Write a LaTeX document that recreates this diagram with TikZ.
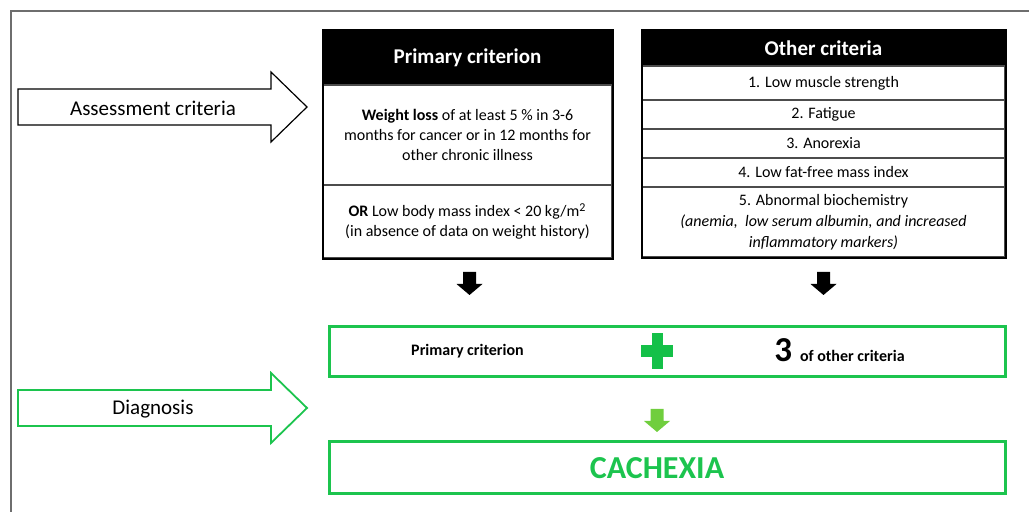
\documentclass[tikz,border=0pt]{standalone}
\usepackage{fontspec}
\setmainfont{Carlito}
\usepackage{xcolor}
\usetikzlibrary{positioning}
\definecolor{framegray}{RGB}{110,110,110}
\definecolor{boxgreen}{RGB}{28,196,78}
\definecolor{plusgreen}{RGB}{20,192,72}
\definecolor{arrowgreen}{RGB}{112,206,62}

\tikzset{
  headcell/.style={fill=black, text=white, font=\fontsize{10.5}{12}\selectfont\bfseries, inner sep=0pt},
  cell/.style={draw=black!70, line width=0.6pt, align=center, font=\fontsize{8}{10}\selectfont, inner sep=0pt},
  greenbox/.style={draw=boxgreen, line width=1.5pt, minimum width=338pt, inner sep=0pt},
  blockdown/.pic={\fill (-6.5,0) -- (6.5,0) -- (6.5,-12) -- (13,-12) -- (0,-23) -- (-13,-12) -- (-6.5,-12) -- cycle;}
}

\begin{document}
\begin{tikzpicture}[x=0.5pt, y=0.5pt]
        \useasboundingbox (0,0) rectangle (1029,512);

        % Frame
        \draw[framegray, line width=0.8pt] (11,0) -- (11,501) -- (1029,501);

        % Assessment arrow
        \draw[line width=0.6pt] (18,387) -- (271,387) -- (271,370) -- (307,405) -- (271,440) -- (271,423) -- (18,423) -- cycle;
        \node[font=\fontsize{10.5}{12}\selectfont] (assess) at (153,404) {Assessment criteria};

        % Primary criterion {{{
        \node[headcell, minimum width=144.5pt, minimum height=27.5pt] (primhead) at (467.5,454.5) {Primary criterion};
        \node[cell, minimum width=144.5pt, minimum height=50pt] (weightloss) at (467.5,377) {\textbf{Weight loss} of at least 5 \% in 3-6\\months for cancer or in 12 months for\\other chronic illness};
        \node[cell, minimum width=144.5pt, minimum height=36.5pt] (lowbmi) at (467.5,290.5) {\textbf{OR} Low body mass index < 20 kg/m\textsuperscript{2}\\(in absence of data on weight history)};
        \draw[line width=1pt] (primhead.north west) rectangle (lowbmi.south east);
        % }}}

        % Other criteria {{{
        \node[headcell, minimum width=181.5pt, minimum height=18pt] (otherhead) at (823.5,464) {Other criteria};
        \node[cell, minimum width=181.5pt, minimum height=17pt] (strength) at (823.5,429) {1. Low muscle strength};
        \node[cell, minimum width=181.5pt, minimum height=14.5pt] (fatigue) at (823.5,397.5) {2. Fatigue};
        \node[cell, minimum width=181.5pt, minimum height=14.5pt] (anorexia) at (823.5,368.5) {3. Anorexia};
        \node[cell, minimum width=181.5pt, minimum height=14.5pt] (fatfree) at (823.5,339.5) {4. Low fat-free mass index};
        \node[cell, minimum width=181.5pt, minimum height=35pt, font=\fontsize{8}{10.5}\selectfont] (biochem) at (823.5,290) {5. Abnormal biochemistry\\\textit{(anemia,\ \ low serum albumin, and increased}\\\textit{inflammatory markers)}};
        \draw[line width=1pt] (otherhead.north west) rectangle (biochem.south east);
        % }}}

        \pic[black] at (469.5,240) {blockdown};
        \pic[black] at (823.5,240) {blockdown};

        % Diagnosis arrow
        \draw[boxgreen, line width=0.9pt] (18,86) -- (271,86) -- (271,69) -- (307,104) -- (271,139) -- (271,122) -- (18,122) -- cycle;
        \node[font=\fontsize{10.5}{12}\selectfont] (diagnosis) at (153,103) {Diagnosis};

        % Rule: primary + 3 others
        \node[greenbox, minimum height=25pt] (rule) at (667,160) {};
        \node[font=\fontsize{8}{10}\selectfont\bfseries] (primlabel) at (467.5,161) {Primary criterion};
        \coordinate (plus) at (657,161);
        \fill[plusgreen] (plus) ++(-16,-6) rectangle ++(32,12);
        \fill[plusgreen] (plus) ++(-5.5,-18) rectangle ++(11,36);
        \node[anchor=base west, inner sep=0pt, font=\fontsize{17.5}{20}\selectfont\bfseries] (three) at (774,150) {3 {\fontsize{8}{10}\selectfont of other criteria}};

        \pic[arrowgreen] at (657,103) {blockdown};

        % Result
        \node[greenbox, minimum height=26pt] (result) at (667,44) {};
        \node[text=boxgreen, font=\fontsize{16}{18}\selectfont\bfseries] (cachexia) at (657,44) {CACHEXIA};
\end{tikzpicture}
\end{document}
